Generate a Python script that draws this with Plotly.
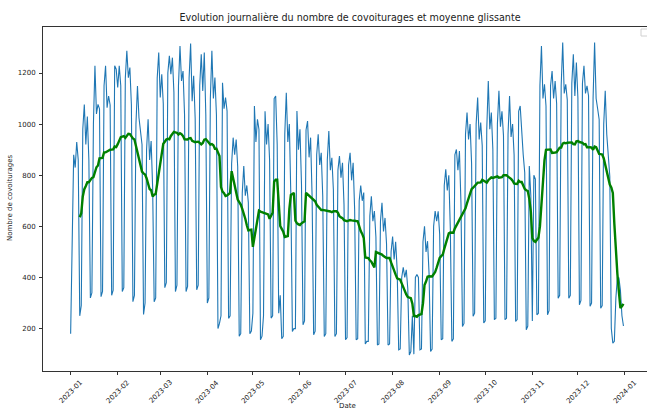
import pandas as pd
import plotly.graph_objects as go

# ---------------- data ----------------
start_date = "2023-01-01"
end_date = "2023-12-31"

first_day = [180]  # Sunday 2023-01-01

# each row = one week, Monday..Sunday
q1_weeks = [
    [520, 880, 830, 930, 860, 250, 290],
    [980, 1077, 920, 1030, 860, 320, 340],
    [1000, 1228, 1040, 1077, 1060, 325, 345],
    [1150, 1228, 1064, 1110, 1075, 330, 350],
    [1228, 1215, 1143, 1228, 1150, 345, 360],
    [1180, 1287, 1182, 1221, 1075, 305, 330],
    [1000, 1149, 1025, 970, 920, 255, 300],
    [900, 1019, 860, 934, 750, 305, 320],
    [1180, 1280, 1104, 1195, 1080, 360, 380],
    [1200, 1267, 1195, 1260, 1125, 345, 370],
    [1150, 1306, 1169, 1208, 1037, 345, 365],
    [1180, 1315, 1090, 1189, 1021, 352, 370],
    [1150, 1273, 1130, 1280, 1036, 300, 320],
]
q2_weeks = [
    [1100, 1287, 1100, 1182, 1036, 200, 220],
    [250, 1162, 1060, 1104, 1051, 240, 250],
    [845, 947, 880, 940, 833, 170, 180],
    [730, 836, 720, 760, 693, 180, 190],
    [260, 1071, 930, 1019, 979, 156, 170],
    [250, 1050, 920, 1000, 860, 241, 250],
    [1100, 1110, 920, 260, 330, 160, 170],
    [960, 1123, 930, 1000, 715, 189, 200],
    [200, 1051, 900, 980, 764, 215, 230],
    [977, 1012, 870, 947, 714, 176, 190],
    [880, 960, 840, 888, 717, 169, 180],
    [860, 973, 820, 868, 743, 169, 180],
    [820, 875, 790, 849, 685, 156, 165],
]
q3_weeks = [
    [840, 888, 780, 849, 667, 156, 160],
    [700, 760, 700, 732, 140, 150, 150],
    [640, 718, 620, 660, 558, 136, 140],
    [620, 692, 580, 633, 531, 136, 140],
    [500, 560, 470, 540, 430, 117, 120],
    [400, 440, 400, 430, 356, 97, 110],
    [250, 100, 400, 412, 400, 117, 120],
    [540, 600, 500, 542, 416, 110, 120],
    [600, 660, 620, 659, 568, 156, 160],
    [760, 823, 740, 800, 592, 150, 160],
    [880, 901, 820, 895, 689, 208, 220],
    [960, 1045, 940, 1000, 846, 248, 260],
    [1000, 1104, 940, 1006, 916, 222, 230],
]
q4_weeks = [
    [980, 1169, 980, 1045, 902, 235, 240],
    [1000, 1130, 990, 1050, 955, 235, 240],
    [960, 1110, 950, 1000, 879, 228, 235],
    [1050, 1071, 950, 880, 810, 195, 210],
    [836, 720, 230, 800, 785, 254, 260],
    [1150, 1306, 1100, 1156, 1071, 254, 270],
    [1150, 1208, 1100, 1169, 1080, 319, 330],
    [1150, 1319, 1120, 1156, 1095, 319, 330],
    [1160, 1273, 1110, 1241, 1102, 293, 310],
    [1160, 1228, 1120, 1150, 1111, 287, 300],
    [1100, 1319, 1100, 1060, 1018, 280, 290],
    [1000, 1130, 960, 888, 796, 200, 143],
    [150, 320, 400, 398, 350, 250, 210],
]

month_labels = ["2023-01", "2023-02", "2023-03", "2023-04", "2023-05", "2023-06",
                "2023-07", "2023-08", "2023-09", "2023-10", "2023-11", "2023-12",
                "2024-01"]
y_ticks = [200, 400, 600, 800, 1000, 1200]

title_text = "Evolution journalière du nombre de covoiturages et moyenne glissante"
x_title = "Date"
y_title = "Nombre de covoiturages"

# ---------------- build ----------------
counts = first_day + [v for wk in (q1_weeks + q2_weeks + q3_weeks + q4_weeks) for v in wk]
dates = pd.date_range(start_date, end_date, freq="D")
series = pd.Series(counts, index=dates)
rolling = series.rolling(7).mean()

tick_dates = [pd.Timestamp(m + "-01") for m in month_labels]

FONT = "DejaVu Sans"
TXT = "#222"

fig = go.Figure()
fig.add_trace(go.Scatter(x=dates, y=series.values, mode="lines",
                         line=dict(color="#1f77b4", width=1.1),
                         name="Nombre de covoiturages"))
fig.add_trace(go.Scatter(x=dates, y=rolling.values, mode="lines",
                         line=dict(color="#008000", width=2.4),
                         name="Moyenne glissante"))

x0 = pd.Timestamp(start_date) - pd.Timedelta(days=18.2)
x1 = pd.Timestamp("2024-01-01") + pd.Timedelta(days=14.5)

fig.update_layout(
    width=647, height=412,
    margin=dict(l=43, r=0, t=27, b=41, autoexpand=False),
    paper_bgcolor="white", plot_bgcolor="white",
    showlegend=False,
    font=dict(family=FONT, color=TXT),
    title=dict(text=title_text, x=(350 / 647), xanchor="center",
               y=1 - 18 / 412, yanchor="middle",
               font=dict(size=9.6, family=FONT, color=TXT)),
)
fig.update_xaxes(type="date", range=[x0, x1], tickvals=tick_dates, automargin=False,
                 showticklabels=False, ticks="outside", ticklen=3, tickwidth=0.8,
                 tickcolor="#333", showline=True, linecolor="#333", linewidth=0.8,
                 mirror=True, showgrid=False, zeroline=False)
fig.update_yaxes(range=[34, 1380], tickvals=y_ticks, ticks="outside", ticklen=3,
                 automargin=False,
                 tickwidth=0.8, tickcolor="#333", showline=True, linecolor="#333",
                 linewidth=0.8, showgrid=False, zeroline=False,
                 tickfont=dict(size=7, family=FONT, color=TXT),
                 ticklabelstandoff=2)

for d, lab in zip(tick_dates, month_labels):
    fig.add_annotation(x=d, xref="x", y=(371 - 391.5) / 344, yref="paper", text=lab,
                       textangle=-45, showarrow=False, xanchor="center",
                       yanchor="middle", font=dict(size=7, family=FONT, color=TXT))

fig.add_annotation(x=(347 - 43) / 604, xref="paper", y=(371 - 412) / 344, yref="paper",
                   text=x_title, showarrow=False, xanchor="center", yanchor="bottom",
                   font=dict(size=7, family=FONT, color=TXT))
fig.add_annotation(x=(10 - 43) / 604, xref="paper", y=(371 - 198) / 344, yref="paper",
                   text=y_title, textangle=-90, showarrow=False, xanchor="center",
                   yanchor="middle", font=dict(size=7, family=FONT, color=TXT))

# corner of the legend frame visible at the right edge
fig.add_shape(type="rect", xref="paper", yref="paper",
              x0=(641 - 43) / 604, x1=1.03, y0=(371 - 36) / 344, y1=(371 - 29) / 344,
              line=dict(color="#d0d0d0", width=1), fillcolor="rgba(255,255,255,0.8)")

fig.write_html("out.html", config={"displayModeBar": False},
               post_script="document.body.style.margin='0';document.body.style.overflow='hidden';")
